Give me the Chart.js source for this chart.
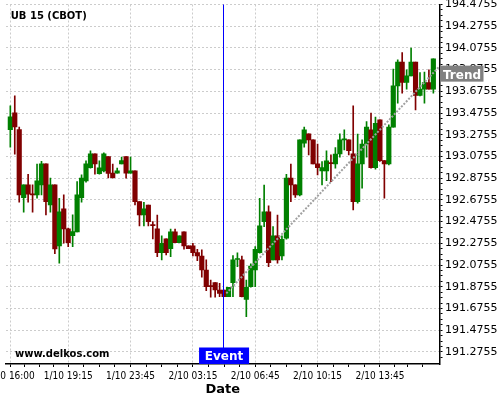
<!DOCTYPE html>
<html>
<head>
<meta charset="utf-8">
<script src="https://cdn.jsdelivr.net/npm/chart.js@4"></script>
<style>
  html, body { margin: 0; padding: 0; background: #fff; overflow: hidden; }
  #wrap { position: absolute; left: -40px; top: 0; width: 540px; height: 400px; }
</style>
</head>
<body>
<div id="wrap"><canvas id="candleChart"></canvas></div>
<script>
// 15 minute candles, x = candle index
const opens = [193.323, 193.477, 193.323, 192.697, 192.814, 192.731, 192.722, 192.814, 193.007, 192.629,
  192.814, 192.252, 192.593, 192.408, 192.347, 192.381, 192.697, 192.851, 192.973, 193.100,
  192.918, 192.943, 193.075, 192.922, 192.922, 193.007, 193.075, 192.922, 192.943, 192.660,
  192.537, 192.629, 192.445, 192.408, 192.190, 192.316, 192.227, 192.381, 192.282, 192.381,
  192.252, 192.252, 192.190, 192.159, 192.030, 191.886, 191.913, 191.846, 191.846, 191.784,
  191.913, 192.127, 192.123, 191.760, 191.876, 192.030, 192.190, 192.476, 192.565, 192.123,
  192.344, 192.159, 192.323, 192.876, 192.814, 192.722, 193.198, 193.284, 193.229, 193.007,
  192.943, 192.943, 193.019, 193.007, 193.100, 193.229, 193.229, 193.100, 192.660, 193.007,
  193.192, 193.321, 192.973, 193.413, 193.038, 193.007, 193.346, 193.726, 193.945, 193.757,
  193.818, 193.945, 193.637, 193.696, 193.757, 193.696];
const closes = [193.441, 193.348, 192.722, 192.814, 192.728, 192.722, 192.851, 193.007, 192.660, 192.814,
  192.224, 192.565, 192.408, 192.282, 192.383, 192.722, 192.876, 193.007, 193.100, 193.007,
  192.970, 193.100, 192.920, 192.881, 192.943, 193.038, 192.922, 192.943, 192.660, 192.537,
  192.593, 192.476, 192.439, 192.190, 192.276, 192.190, 192.381, 192.282, 192.344, 192.252,
  192.227, 192.190, 192.159, 192.030, 191.876, 191.876, 191.846, 191.814, 191.784, 191.871,
  192.123, 192.136, 191.784, 191.871, 192.067, 192.221, 192.436, 192.565, 192.098, 192.344,
  192.123, 192.313, 192.876, 192.814, 192.722, 193.229, 193.321, 193.229, 193.007, 192.973,
  192.973, 193.035, 193.010, 193.097, 193.229, 193.238, 193.130, 192.660, 193.007, 193.189,
  193.346, 192.973, 193.382, 193.038, 193.007, 193.346, 193.726, 193.945, 193.757, 193.818,
  193.945, 193.637, 193.696, 193.757, 193.696, 193.975];
const highs = [193.542, 193.634, 193.346, 192.814, 192.912, 192.814, 193.005, 193.032, 193.007, 192.876,
  192.814, 192.691, 192.722, 192.415, 192.537, 192.844, 192.906, 193.035, 193.127, 193.100,
  193.035, 193.109, 193.075, 193.005, 192.968, 193.069, 193.075, 193.069, 192.943, 192.660,
  192.654, 192.629, 192.476, 192.535, 192.344, 192.316, 192.406, 192.406, 192.344, 192.381,
  192.252, 192.276, 192.221, 192.215, 192.123, 191.938, 191.913, 191.908, 191.846, 191.871,
  192.162, 192.187, 192.159, 191.938, 192.086, 192.245, 192.691, 192.811, 192.620, 192.429,
  192.535, 192.344, 192.912, 193.005, 192.814, 193.229, 193.346, 193.284, 193.229, 193.189,
  193.029, 193.127, 193.090, 193.158, 193.284, 193.321, 193.229, 193.542, 193.281, 193.229,
  193.397, 193.475, 193.438, 193.413, 193.038, 193.367, 193.880, 193.966, 194.033, 193.874,
  194.074, 193.945, 193.849, 193.853, 193.874, 193.975];
const lows = [193.161, 193.097, 192.654, 192.562, 192.654, 192.562, 192.691, 192.722, 192.537, 192.562,
  192.181, 192.092, 192.276, 192.245, 192.245, 192.381, 192.654, 192.839, 192.968, 192.912,
  192.912, 192.934, 192.878, 192.876, 192.922, 193.007, 192.876, 192.922, 192.629, 192.436,
  192.436, 192.436, 192.316, 192.153, 192.123, 192.169, 192.153, 192.282, 192.282, 192.221,
  192.227, 192.159, 192.116, 191.963, 191.840, 191.779, 191.779, 191.784, 191.784, 191.784,
  191.784, 192.061, 191.782, 191.600, 191.871, 191.876, 192.184, 192.429, 192.061, 192.123,
  192.092, 192.123, 192.313, 192.660, 192.699, 192.712, 193.161, 193.090, 193.007, 192.906,
  192.814, 192.853, 192.844, 192.968, 193.069, 193.136, 193.090, 192.583, 192.645, 192.783,
  193.069, 192.968, 192.959, 193.029, 192.691, 192.998, 193.346, 193.567, 193.659, 193.696,
  193.818, 193.505, 193.634, 193.567, 193.696, 193.659];

// x axis labels (candle index -> text)
const xTickIndex = [0, 13, 27, 41, 55, 69, 83];
const xTickLabels = ['1/10 16:00', '1/10 19:15', '1/10 23:45', '2/10 03:15', '2/10 06:45', '2/10 10:15', '2/10 13:45'];
const xMinorIndex = [3.25, 6.5, 9.75, 16.5, 20, 23.5, 30.5, 34, 37.5, 44.5, 48, 51.5, 58.5, 62, 65.5, 72.5, 76, 79.5, 86.2, 89.3, 92.5];

// y axis labels
const yTicks = [191.2755, 191.4755, 191.6755, 191.8755, 192.0755, 192.2755, 192.4755, 192.6755,
  192.8755, 193.0755, 193.2755, 193.4755, 193.6755, 193.8755, 194.0755, 194.2755, 194.4755];

const eventIndex = 48;
const trendStart = { x: 48.5, y: 191.815 };
const trendEnd = { x: 96.3, y: 193.903 };

const GREEN = '#008000';
const RED = '#800000';
const candleColor = i => closes[i] >= opens[i] ? GREEN : RED;

const isMajorY = v => yTicks.some(t => Math.abs(t - v) < 1e-6);
const isMajorX = v => xTickIndex.some(t => Math.abs(t - v) < 1e-6);

const overlay = {
    id: 'overlay',
    afterDatasetsDraw(chart) {
        const ctx = chart.ctx;
        const area = chart.chartArea;
        const xs = chart.scales.x;
        ctx.save();

        // event line
        const ex = Math.round(xs.getPixelForValue(eventIndex)) - 0.5;
        ctx.strokeStyle = '#0000ff';
        ctx.lineWidth = 1;
        ctx.beginPath();
        ctx.moveTo(ex, area.top);
        ctx.lineTo(ex, area.bottom);
        ctx.stroke();
        ctx.restore();
    },
    afterDraw(chart) {
        const ctx = chart.ctx;
        const area = chart.chartArea;
        const xs = chart.scales.x, ys = chart.scales.y;
        ctx.save();

        // title + watermark
        ctx.fillStyle = '#000';
        ctx.textBaseline = 'alphabetic';
        ctx.textAlign = 'left';
        ctx.font = 'bold 10px "DejaVu Sans"';
        ctx.fillText('UB 15 (CBOT)', area.left + 4.7, 19);
        ctx.fillText('www.delkos.com', area.left + 9, 357);

        // event label
        const ex = xs.getPixelForValue(eventIndex);
        ctx.fillStyle = '#0000ff';
        ctx.fillRect(ex - 25, area.bottom - 16.5, 50, 16.5);
        ctx.fillStyle = '#fff';
        ctx.font = 'bold 12px "DejaVu Sans"';
        ctx.textAlign = 'center';
        ctx.fillText('Event', ex, area.bottom - 4);

        // trend label
        const ty = ys.getPixelForValue(trendEnd.y);
        ctx.fillStyle = '#808080';
        ctx.fillRect(area.right + 0.5, ty - 1, 43.5, 16);
        ctx.fillStyle = '#fff';
        ctx.textAlign = 'left';
        ctx.fillText('Trend', area.right + 3.5, ty + 12);
        ctx.restore();
    }
};

const initCandleChart = () => {
    const ctx = document.getElementById('candleChart').getContext('2d');
    Chart.defaults.font.family = "'DejaVu Sans', sans-serif";

    const idx = opens.map((_, i) => i);

    new Chart(ctx, {
        type: 'bar',
        data: {
            datasets: [
                {
                    type: 'line',
                    data: [trendStart, trendEnd],
                    borderColor: '#a0a0a0',
                    borderWidth: 2,
                    borderDash: [2, 1.5],
                    pointRadius: 0,
                    fill: false
                },
                {
                    data: idx.map(i => ({ x: i, y: [opens[i], closes[i]] })),
                    backgroundColor: c => candleColor(c.dataIndex),
                    barThickness: 4.5,
                    minBarLength: 1,
                    grouped: false
                },
                {
                    data: idx.map(i => ({ x: i, y: [lows[i], highs[i]] })),
                    backgroundColor: c => candleColor(c.dataIndex),
                    barThickness: 1,
                    grouped: false
                }
            ]
        },
        options: {
            responsive: true,
            maintainAspectRatio: false,
            animation: false,
            layout: { padding: { left: 46, top: 4.5, right: 0, bottom: 0 } },
            plugins: {
                legend: { display: false },
                tooltip: { enabled: false },
                title: { display: false }
            },
            scales: {
                x: {
                    type: 'linear',
                    offset: false,
                    min: -0.97,
                    max: 96.38,
                    afterBuildTicks: s => {
                        s.ticks = xTickIndex.concat(xMinorIndex).sort((a, b) => a - b).map(v => ({ value: v }));
                    },
                    afterFit: s => {
                        s.height = 36;
                        s.paddingLeft = 0;
                        s.paddingRight = 0;
                    },
                    ticks: {
                        autoSkip: false,
                        maxRotation: 0,
                        padding: 3.5,
                        color: '#000000',
                        font: { size: 10, family: "'DejaVu Sans Condensed', 'DejaVu Sans'" },
                        callback: v => {
                            const k = xTickIndex.findIndex(t => Math.abs(t - v) < 1e-6);
                            return k >= 0 ? xTickLabels[k] : '';
                        }
                    },
                    grid: {
                        offset: false,
                        color: c => (c.tick && isMajorX(c.tick.value)) ? '#cccccc' : 'rgba(0,0,0,0)',
                        tickColor: '#000000',
                        tickLength: 3
                    },
                    border: { color: '#000000', width: 1.5, dash: [2, 2] },
                    title: {
                        display: true,
                        text: 'Date',
                        color: '#000000',
                        font: { size: 13, weight: 'bold' },
                        padding: { top: 0, bottom: 3 }
                    }
                },
                y: {
                    type: 'linear',
                    position: 'right',
                    min: 191.164,
                    max: 194.4755,
                    afterBuildTicks: s => {
                        const t = [];
                        for (let v = yTicks[0] - 0.05; v <= yTicks[yTicks.length - 1] + 1e-6; v += 0.05) {
                            if (v >= s.min) t.push({ value: +v.toFixed(4) });
                        }
                        s.ticks = t;
                    },
                    afterFit: s => {
                        s.width = 60.5;
                        s.paddingTop = 0;
                        s.paddingBottom = 0;
                    },
                    ticks: {
                        autoSkip: false,
                        padding: 2.5,
                        color: '#000000',
                        font: { size: 11 },
                        callback: v => isMajorY(v) ? v.toFixed(4) : ''
                    },
                    grid: {
                        color: c => (c.tick && isMajorY(c.tick.value)) ? '#cccccc' : 'rgba(0,0,0,0)',
                        tickColor: '#000000',
                        tickLength: 3
                    },
                    border: { color: '#000000', width: 1.5, dash: [2, 2] }
                }
            }
        },
        plugins: [overlay]
    });
};

initCandleChart();
</script>
</body>
</html>
